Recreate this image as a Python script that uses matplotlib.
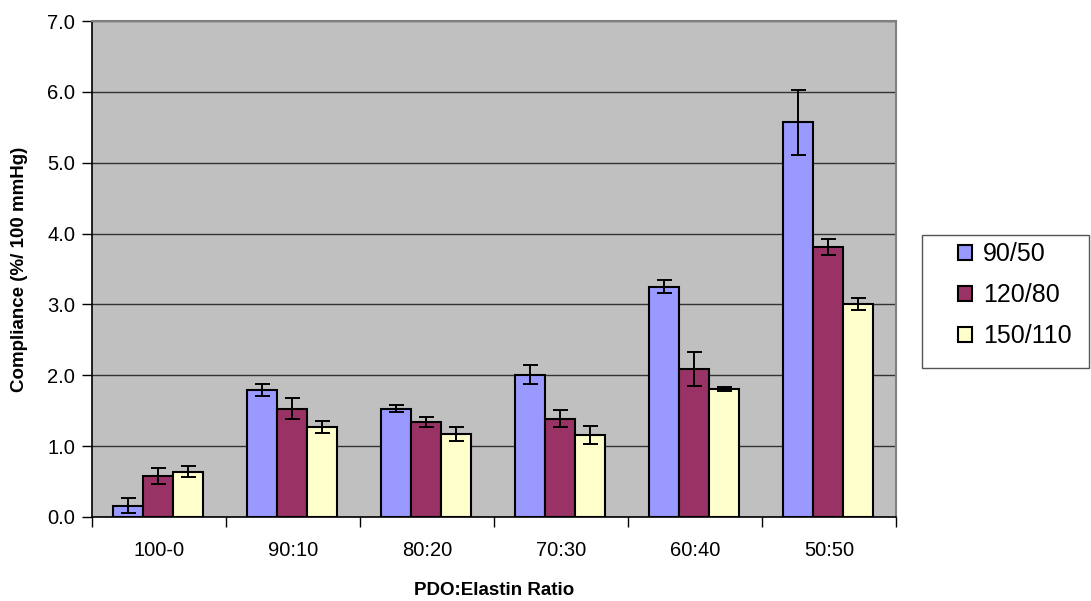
import matplotlib
matplotlib.use("Agg")
import matplotlib.pyplot as plt
from matplotlib.patches import Rectangle
import numpy as np

categories = ["100-0", "90:10", "80:20", "70:30", "60:40", "50:50"]
series_names = ["90/50", "120/80", "150/110"]
vals_90_50 = [0.16, 1.79, 1.53, 2.01, 3.25, 5.57]
err_90_50 = [0.11, 0.085, 0.05, 0.14, 0.095, 0.455]
vals_120_80 = [0.58, 1.53, 1.34, 1.39, 2.09, 3.81]
err_120_80 = [0.11, 0.15, 0.07, 0.12, 0.24, 0.11]
vals_150_110 = [0.64, 1.27, 1.17, 1.16, 1.81, 3.00]
err_150_110 = [0.08, 0.09, 0.10, 0.13, 0.03, 0.085]
colors = ["#9999FF", "#993366", "#FFFFCC"]

plt.rcParams['font.family'] = ['Liberation Sans', 'DejaVu Sans']

W, H = 1091, 601
fig = plt.figure(figsize=(W / 100, H / 100), dpi=100)
ax = fig.add_axes([92/W, 1-517/H, (896-92)/W, (517-21)/H])
ax.set_facecolor("#C0C0C0")

x = np.arange(len(categories))
w = 0.224
allvals = [vals_90_50, vals_120_80, vals_150_110]
allerr = [err_90_50, err_120_80, err_150_110]
for i, (v, e, c, n) in enumerate(zip(allvals, allerr, colors, series_names)):
    ax.bar(x + (i - 1) * w - 0.01, v, width=w, color=c, edgecolor="black",
           linewidth=1.5, label=n, zorder=3)
    ax.errorbar(x + (i - 1) * w - 0.01, v, yerr=e, fmt="none", ecolor="black",
                elinewidth=1.4, capsize=5.4, capthick=1.4, zorder=4)

ax.set_xlim(-0.5, len(categories) - 0.5)
ax.set_ylim(0, 7)
ax.set_yticks(np.arange(0, 7.01, 1.0))
ax.set_yticklabels([f"{t:.1f}" for t in np.arange(0, 7.01, 1.0)])
ax.yaxis.grid(True, color="#333333", linewidth=1.0, zorder=0)
ax.set_axisbelow(True)
ax.set_xticks(np.arange(-0.5, len(categories), 1.0), minor=False)
ax.set_xticklabels([])
ax.set_xticks(x, minor=True)
ax.set_xticklabels(categories, minor=True)
ax.tick_params(axis="x", which="minor", length=0, labelsize=14.5, pad=17)
ax.tick_params(axis="x", which="major", length=7, width=1.0, direction="out")
ax.tick_params(axis="y", length=7, width=1.0, labelsize=14.5, pad=5)

for s in ["left", "bottom"]:
    ax.spines[s].set_color("black")
    ax.spines[s].set_linewidth(1.2)
for s in ["top", "right"]:
    ax.spines[s].set_color("#808080")
    ax.spines[s].set_linewidth(1.5)

ax.set_xlabel("PDO:Elastin Ratio", fontsize=13.5, fontweight="bold", labelpad=16)
ax.set_ylabel("Compliance (%/ 100 mmHg)", fontsize=13.5, fontweight="bold", labelpad=14)

# legend frame drawn as a figure rectangle
fig.patches.append(Rectangle((922/W, 1-368/H), (1089-922)/W, (368-235)/H,
                             transform=fig.transFigure, facecolor="white",
                             edgecolor="#555555", linewidth=1.0, zorder=1))
leg = fig.legend(loc="upper left", bbox_to_anchor=(958/W, 1-242/H),
                 fontsize=18, frameon=False,
                 handlelength=0.55, handleheight=0.55, handletextpad=0.45,
                 labelspacing=0.68, borderpad=0, borderaxespad=0)
leg.set_zorder(5)

fig.savefig("out.png", dpi=100)
